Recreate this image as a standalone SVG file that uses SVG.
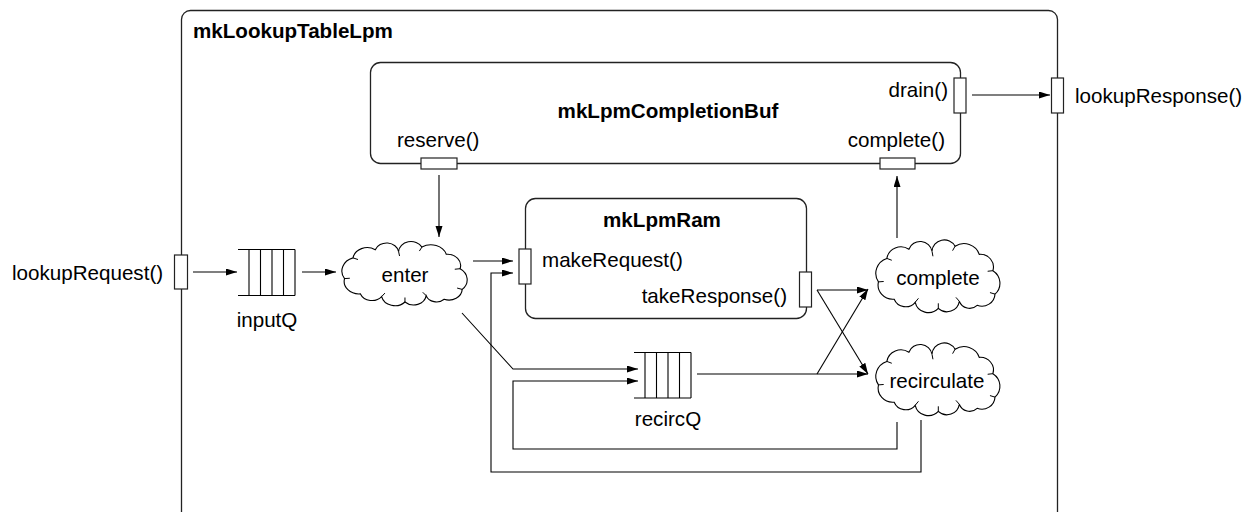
<svg xmlns="http://www.w3.org/2000/svg" xmlns:xlink="http://www.w3.org/1999/xlink" width="1250" height="512" viewBox="0 0 1250 512">
  <style>
    text { font-family: "Liberation Sans", Arial, Helvetica, sans-serif; font-size: 20.6px; fill: #000; }
    .title { font-weight: bold; }
    .mid { text-anchor: middle; }
    .end { text-anchor: end; }
    .box { fill: none; stroke: #222; stroke-width: 1.3; }
    .port { fill: #fff; stroke: #222; stroke-width: 1.2; }
    .wire { fill: none; stroke: #000; stroke-width: 1.1; }
    .arrow { marker-end: url(#head); }
    .cloud { fill: #fff; stroke: #000; stroke-width: 1.1; vector-effect: non-scaling-stroke; }
    .tick { fill: none; stroke: #000; stroke-width: 1; vector-effect: non-scaling-stroke; }
    .fifo { fill: none; stroke: #000; stroke-width: 1.1; }
  </style>
  <defs>
    <marker id="head" markerUnits="userSpaceOnUse" markerWidth="12" markerHeight="8" refX="11" refY="3.5" orient="auto">
      <path d="M0,0 L11,3.5 L0,7 z" fill="#000"/>
    </marker>
    <!-- cloud outline, about 130 x 78 -->
    <g id="cloudShape">
      <path class="cloud" d="M9,44 A15.4,15.4 0 0 1 17,21 A13.5,13.5 0 0 1 38,12 A11.4,11.4 0 0 1 60,14 A11.7,11.7 0 0 1 82,9 A15.3,15.3 0 0 1 105,17 A12.5,12.5 0 0 1 118,33 A14.6,14.6 0 0 1 120,56 A12.5,12.5 0 0 1 103,67 A10.4,10.4 0 0 1 86,63 A11.9,11.9 0 0 1 66,70 A12.9,12.9 0 0 1 44,64 A11.7,11.7 0 0 1 24,61 A14,14 0 0 1 9,44 z"/>
      <path class="tick" d="M17,21 L21.7,22.8 M60,14 L60.9,18.9 M82,9 L79.6,13.4 M118,33 L113,33.6 M120,56 L115.2,54.5 M86,63 L82.8,59.2 M66,70 L66,65 M44,64 L47.1,60.1 M9,44 L14,43.6"/>
    </g>
  </defs>

  <!-- enclosing module -->
  <g id="mkLookupTableLpm">
    <rect class="box" x="181.5" y="10.5" width="876" height="540" rx="9"/>
    <text class="title" x="193" y="38">mkLookupTableLpm</text>
  </g>

  <g id="lookupRequest">
    <rect class="port" x="174.5" y="255" width="13" height="34"/>
    <text x="12" y="280">lookupRequest()</text>
  </g>

  <g id="lookupResponse">
    <rect class="port" x="1051.5" y="78" width="12" height="35"/>
    <text x="1075" y="103">lookupResponse()</text>
  </g>

  <!-- completion buffer -->
  <g id="mkLpmCompletionBuf">
    <rect class="box" x="370.5" y="62.5" width="590" height="101" rx="10"/>
    <text class="title mid" x="668" y="118">mkLpmCompletionBuf</text>
    <text x="397" y="147">reserve()</text>
    <text class="end" x="948" y="97">drain()</text>
    <text class="end" x="945" y="147">complete()</text>
    <rect class="port" x="421" y="158" width="36" height="11"/>
    <rect class="port" x="954" y="78" width="12" height="35"/>
    <rect class="port" x="880" y="158" width="35" height="11"/>
  </g>

  <!-- RAM -->
  <g id="mkLpmRam">
    <rect class="box" x="525.5" y="198.5" width="281" height="120" rx="10"/>
    <text class="title mid" x="662" y="227">mkLpmRam</text>
    <text x="542" y="267">makeRequest()</text>
    <text class="end" x="787" y="303">takeResponse()</text>
    <rect class="port" x="519" y="249" width="12" height="35"/>
    <rect class="port" x="799.5" y="272" width="12" height="35"/>
  </g>

  <!-- FIFOs -->
  <g id="inputQ">
    <path class="fifo" d="M238,249.5 H295 M238,295.5 H295 M249,249.5 V295.5 M260.5,249.5 V295.5 M272,249.5 V295.5 M283.5,249.5 V295.5 M295,249.5 V295.5"/>
    <text class="mid" x="267" y="327">inputQ</text>
  </g>

  <g id="recircQ">
    <path class="fifo" d="M634,352.5 H691 M634,398 H691 M645,352.5 V398 M656.5,352.5 V398 M668,352.5 V398 M679.5,352.5 V398 M691,352.5 V398"/>
    <text class="mid" x="668" y="426">recircQ</text>
  </g>

  <!-- rules -->
  <g id="enter">
    <use xlink:href="#cloudShape" transform="translate(335,239) scale(1.06,0.9)"/>
    <text class="mid" x="405" y="282">enter</text>
  </g>

  <g id="complete">
    <use xlink:href="#cloudShape" transform="translate(869,237) scale(1.05,1.02)"/>
    <text class="mid" x="938" y="285">complete</text>
  </g>

  <g id="recirculate">
    <use xlink:href="#cloudShape" transform="translate(869,340) scale(1.05,1.02)"/>
    <text class="mid" x="937" y="388">recirculate</text>
  </g>

  <!-- connectors -->
  <g id="connectors">
    <path class="wire arrow" d="M193,272 H237"/>
    <path class="wire arrow" d="M302,272 H336"/>
    <path class="wire arrow" d="M439,175 V237"/>
    <path class="wire arrow" d="M473,261 H513"/>
    <path class="wire arrow" d="M817,290 H868"/>
    <path class="wire arrow" d="M817,290 L868,374"/>
    <path class="wire arrow" d="M697,374 H868"/>
    <path class="wire arrow" d="M817,374 L868,289"/>
    <path class="wire arrow" d="M897,238 V176"/>
    <path class="wire arrow" d="M972,95 H1050"/>
    <path class="wire arrow" d="M462,313 L513,369 H638"/>
    <path class="wire arrow" d="M897,422 V449 H513 V381 H638"/>
    <path class="wire arrow" d="M921,420 V472 H491 V273 H513"/>
  </g>
</svg>
